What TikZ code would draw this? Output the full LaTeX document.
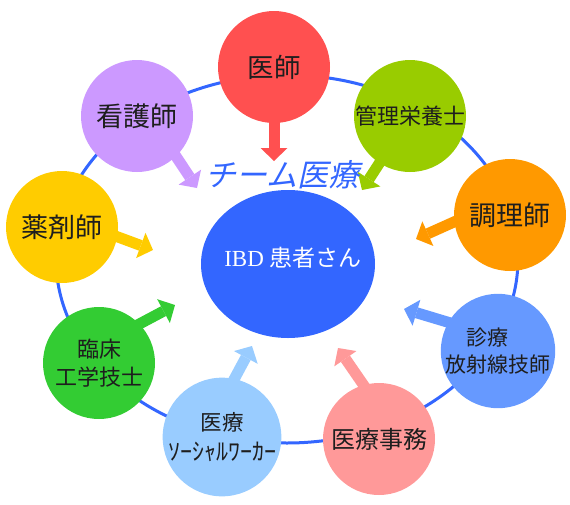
\documentclass[tikz,border=0pt]{standalone}
\usepackage{fontspec}
\setmainfont{Liberation Serif}
\newfontfamily\jp{Noto Sans CJK JP}
\usetikzlibrary{shapes.geometric,arrows.meta}
\pgfdeclarelayer{bg}
\pgfsetlayers{bg,main}
\definecolor{cBlue}{HTML}{3366FF}
\definecolor{cDoc}{HTML}{FF5050}
\definecolor{cDiet}{HTML}{99CC00}
\definecolor{cCook}{HTML}{FF9900}
\definecolor{cRad}{HTML}{6699FF}
\definecolor{cClerk}{HTML}{FF9999}
\definecolor{cSocial}{HTML}{99CCFF}
\definecolor{cEng}{HTML}{33CC33}
\definecolor{cPharm}{HTML}{FFCC00}
\definecolor{cNurse}{HTML}{CC99FF}
\definecolor{cText}{HTML}{1E1E1E}
\begin{document}
\begin{tikzpicture}[x=1pt,y=-1pt]
\tikzset{
  member/.style={circle, inner sep=0pt, minimum size=112pt, text=cText, align=center},
  pointer/.style={line width=11pt, -{Triangle[width=27pt,length=13pt,line width=0pt]}, shorten <=-12pt},
}
\useasboundingbox (0,0) rectangle (570,504);
% members
\node[member, fill=cDoc, font=\jp\fontsize{26.5}{30}\selectfont] (doc) at (274,67) {医師};
\node[member, fill=cDiet, font=\jp\fontsize{22}{26}\selectfont] (diet) at (410,116) {管理栄養士};
\node[member, fill=cCook, font=\jp\fontsize{27}{30}\selectfont] (cook) at (510,215) {調理師};
\node[member, fill=cRad, font=\jp\fontsize{21}{27}\selectfont, align=left] (rad) at (498,351) {\hspace*{1em}診療\\放射線技師};
\node[member, fill=cClerk, font=\jp\fontsize{24}{28}\selectfont] (clerk) at (379,439) {医療事務};
\node[member, fill=cSocial, font=\jp\fontsize{21.5}{30}\selectfont] (social) at (222,437) {医療\\{\fontsize{24}{30}\selectfont ｿｰｼｬﾙﾜｰｶｰ}};
\node[member, fill=cEng, font=\jp\fontsize{22}{28}\selectfont] (eng) at (99,363) {臨床\\工学技士};
\node[member, fill=cPharm, font=\jp\fontsize{27}{30}\selectfont] (pharm) at (62,227) {薬剤師};
\node[member, fill=cNurse, font=\jp\fontsize{27}{30}\selectfont] (nurse) at (137,116) {看護師};
% patient
\node[ellipse, fill=cBlue, minimum width=174pt, minimum height=148pt, inner sep=0pt] (ibd) at (288,264) {};
\node[text=white, font=\fontsize{23}{26}\selectfont, inner sep=0pt] (ibdtext) at (293,258) {IBD {\jp 患者さん}};
\node[text=cBlue, font=\jp\fontsize{31}{34}\selectfont, xslant=0.22] (team) at (285,175) {チーム医療};
% arrow tips
\coordinate (tDoc) at (274,161);
\coordinate (tDiet) at (362,190);
\coordinate (tCook) at (416,239);
\coordinate (tRad) at (404,309);
\coordinate (tClerk) at (338,348);
\coordinate (tSocial) at (252,346);
\coordinate (tEng) at (175,305);
\coordinate (tPharm) at (153,250);
\coordinate (tNurse) at (197,188);
\begin{pgfonlayer}{bg}
\draw[cBlue, line width=3pt] (287,259) ellipse [x radius=231pt, y radius=184pt];
\draw[pointer, cDoc] (doc.-90) -- (tDoc);
\draw[pointer, cDiet] (diet.-123) -- (tDiet);
\draw[pointer, cCook] (cook.187) -- (tCook);
\draw[pointer, cRad] (rad.150) -- (tRad);
\draw[pointer, cClerk] (clerk.106) -- (tClerk);
\draw[pointer, cSocial] (social.78) -- (tSocial);
\draw[pointer, cEng] (eng.44) -- (tEng);
\draw[pointer, cPharm] (pharm.-10) -- (tPharm);
\draw[pointer, cNurse] (nurse.-46) -- (tNurse);
\end{pgfonlayer}
\end{tikzpicture}
\end{document}
